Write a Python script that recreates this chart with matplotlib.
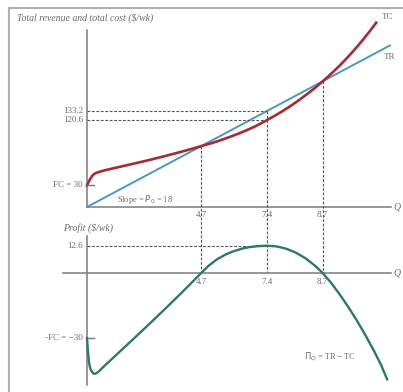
import matplotlib
matplotlib.use("Agg")
import matplotlib.pyplot as plt
from matplotlib.lines import Line2D

# values
tc_q = [0, 0.02, 0.05, 0.1, 0.15, 0.22, 0.3, 0.4, 0.55, 0.75, 1.0, 1.4, 1.8, 2.2, 2.6,
        3.1, 3.6, 4.15, 4.7, 5.1, 5.5, 5.9, 6.3, 6.6, 6.9, 7.15, 7.4, 7.7, 8.0, 8.3,
        8.6, 8.9, 9.2, 9.45, 9.7, 10.05, 10.4, 10.7, 11.0, 11.3, 11.6, 11.9]
tc_v = [30, 31.5, 33.5, 37, 40, 43.5, 46, 47.6, 49.3, 51.1, 53.1, 56.2, 59.3, 62.4, 65.6,
        69.8, 74.2, 79.2, 84.6, 88.4, 92.8, 97.6, 102.8, 107.1, 111.7, 116.0, 120.6, 126.2,
        132.2, 138.6, 145.5, 152.8, 160.5, 167.3, 174.6, 185.1, 196.5, 207, 218.1, 230,
        242.6, 256]
tr_q = [0, 12.5]
price = 18
pr_q = [0, 0.02, 0.04, 0.08, 0.12, 0.16, 0.24, 0.3, 0.38, 0.47, 0.58, 0.7, 0.95, 1.4,
        1.9, 2.6, 3.3, 4.0, 4.7, 5.0, 5.35, 5.7, 6.0, 6.4, 6.7, 7.0, 7.4, 7.8, 8.2, 8.6,
        9.0, 9.4, 9.7, 10.05, 10.4, 10.75, 11.1, 11.45, 11.8, 12.1, 12.35]
pr_v = [-30, -33, -36.4, -41, -43.3, -44.7, -46.1, -46.5, -46.2, -45.5, -44.3, -43.0,
        -40.4, -35.7, -30.5, -23.1, -15.6, -7.9, 0, 3.3, 6.3, 8.5, 9.9, 11.3, 11.95, 12.35,
        12.6, 12.25, 11.19, 9.37, 6.72, 3.2, 0, -4.6, -9.9, -15.6, -21.8, -28.5, -35.7,
        -42.3, -49.0]
q_marks = [4.7, 7.4, 9.7]          # where the marks sit in the drawing
q_labels = ['4.7', '7.4', '8.7']   # what the drawing calls them
tr_star, tc_star, pi_star, fc = 133.2, 120.6, 12.6, 30

W, H = 403, 392
fig = plt.figure(figsize=(W / 100, H / 100), dpi=100)
plt.rcParams['font.family'] = ['Liberation Serif', 'DejaVu Serif']
txt = '#6a6a6a'
axc = '#7a7a7a'
dash = '#555555'
red = '#a52a33'
blue = '#4a98c2'
green = '#2f7a5c'
dls = (0, (2.5, 1.5))

def px_axes(x0, y0, x1, y1):
    return fig.add_axes([x0 / W, 1 - y1 / H, (x1 - x0) / W, (y1 - y0) / H])

# ---- top panel ----
ax = px_axes(60, 12, 403, 212)
ax.set_xlim(-27 / 24.3, 316 / 24.3)
ax.set_ylim(-5 / 0.72, 195 / 0.72)
ax.axis('off')
ax.plot([0, 0], [0, 245.8], color=axc, lw=1.1)
ax.plot([0, 12.5], [0, 0], color=axc, lw=1.1)
ax.plot(tr_q, [price * q for q in tr_q], color=blue, lw=1.4, solid_capstyle='butt')
ax.plot(tc_q, tc_v, color=red, lw=1.9, solid_joinstyle='round')
ax.plot([0, 0.3], [fc, fc], color=axc, lw=1)
ax.plot([0, 7.4], [tr_star, tr_star], color=dash, lw=0.8, ls=dls)
ax.plot([0, 7.4], [tc_star, tc_star], color=dash, lw=0.8, ls=dls)
for q in q_marks:
    ax.plot([q, q], [price * q, -91.7], color=dash, lw=0.8, ls=dls, clip_on=False)
for q, lab in zip(q_marks, q_labels):
    ax.text(q, -5, lab, ha='center', va='top', fontsize=6.5, color=txt)
ax.text(-0.16, tr_star, '133.2', ha='right', va='center', fontsize=6.5, color=txt)
ax.text(-0.16, tc_star, '120.6', ha='right', va='center', fontsize=6.5, color=txt)
ax.text(-0.16, fc, 'FC = 30', ha='right', va='center', fontsize=6.5, color=txt)
ax.text(1.25, 11, r'Slope = $P_0$ = 18', ha='left', va='center', fontsize=6, color=txt)
ax.text(12.15, 264, 'TC', ha='left', va='center', fontsize=6.5, color=txt)
ax.text(12.2, 208, 'TR', ha='left', va='center', fontsize=6.5, color=txt)
ax.text(12.62, 0, 'Q', ha='left', va='center', fontsize=7, color=txt, style='italic')
ax.text(-2.9, 262, 'Total revenue and total cost ($/wk)', ha='left', va='center',
        fontsize=7, color=txt, style='italic', clip_on=False)

# ---- bottom panel ----
bx = px_axes(60, 225, 403, 392)
bx.set_xlim(-27 / 24.3, 316 / 24.3)
bx.set_ylim(-119 / 2.17, 48 / 2.17)
bx.axis('off')
bx.plot([0, 0], [17, -51.6], color=axc, lw=1.1)
bx.plot([-0.99, 12.5], [0, 0], color=axc, lw=1.1)
bx.plot([0, 0.3], [-fc, -fc], color=axc, lw=1)
bx.plot([0, 7.4], [pi_star, pi_star], color=dash, lw=0.8, ls=dls)
bx.plot(pr_q, pr_v, color=green, lw=1.7, solid_joinstyle='round')
for q, lab in zip(q_marks, q_labels):
    bx.text(q, -2.2, lab, ha='center', va='top', fontsize=6.5, color=txt)
bx.text(-0.16, pi_star, '12.6', ha='right', va='center', fontsize=6.5, color=txt)
bx.text(-0.16, -fc, '-FC = \u221230', ha='right', va='center', fontsize=6.5, color=txt)
bx.text(12.62, 0, 'Q', ha='left', va='center', fontsize=7, color=txt, style='italic')
bx.text(-1.0, 20.8, 'Profit ($/wk)', ha='left', va='center', fontsize=7, color=txt,
        style='italic')
bx.text(8.95, -38.7, '$\\Pi_Q$ = TR \u2212 TC', ha='left', va='center', fontsize=6,
        color=txt)

# frame
fig.add_artist(Line2D([9 / W, 9 / W], [0, 1 - 8 / H], color='#b0b0b0', lw=1.5))
fig.add_artist(Line2D([9 / W, 1], [1 - 8 / H, 1 - 8 / H], color='#b0b0b0', lw=1.5))

fig.savefig('out.png', dpi=100)
